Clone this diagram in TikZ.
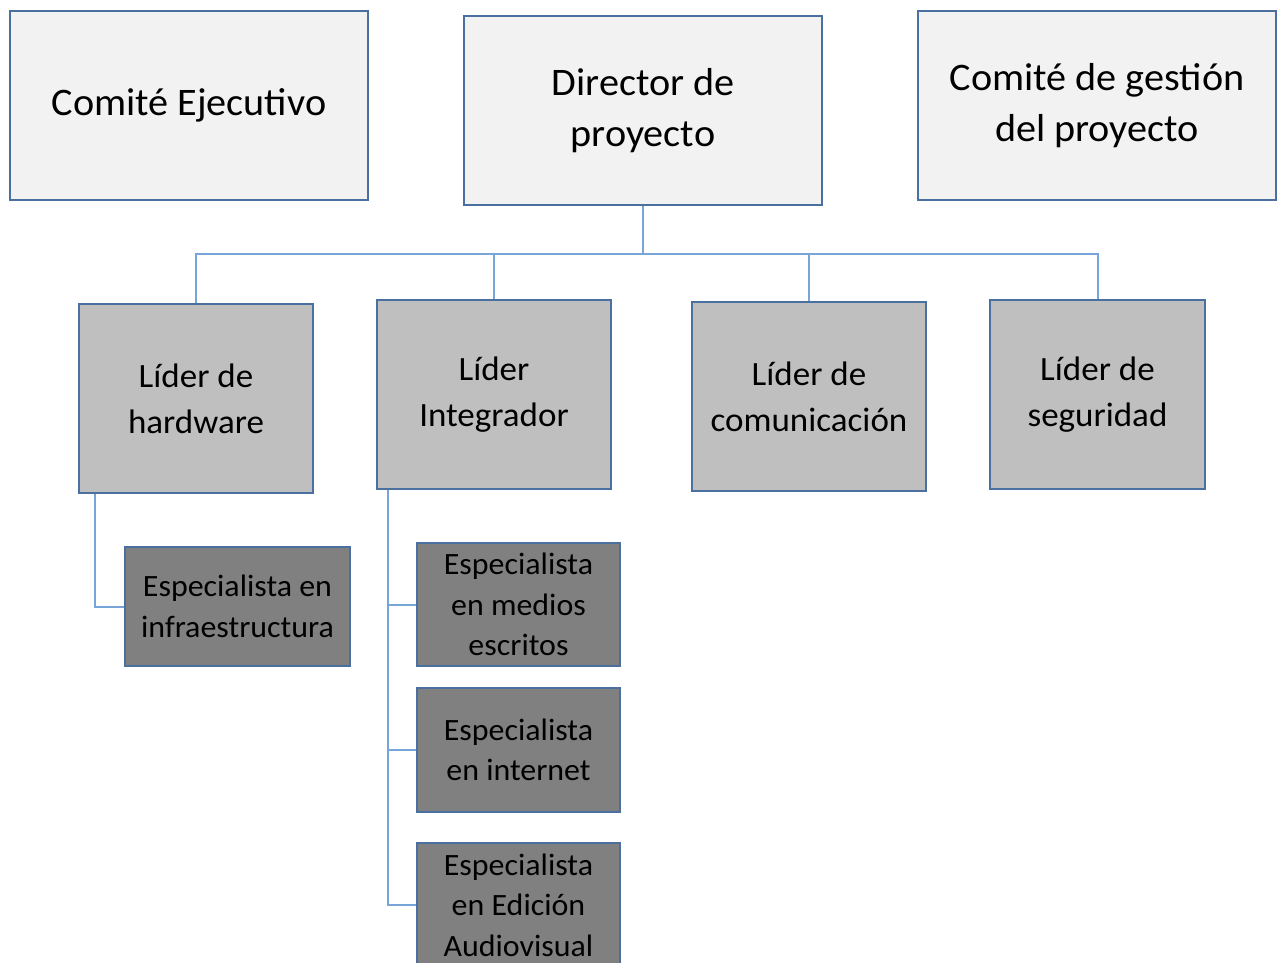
\documentclass[tikz,border=0pt]{standalone}
\usepackage{fontspec}
\setmainfont[FakeStretch=1.03]{Carlito}
\definecolor{bordc}{RGB}{74,112,160}
\definecolor{connc}{RGB}{120,165,215}
\definecolor{topf}{RGB}{242,242,242}
\definecolor{midf}{RGB}{191,191,191}
\definecolor{lowf}{RGB}{128,128,128}
\tikzset{
  box/.style={draw=bordc, line width=1.6pt, inner sep=0pt, align=center, text=black},
  topbox/.style={box, fill=topf, minimum width=358pt, minimum height=189pt, font=\fontsize{39}{51}\selectfont},
  midbox/.style={box, fill=midf, minimum width=234pt, minimum height=189pt, font=\fontsize{34}{46}\selectfont},
  lowbox/.style={box, fill=lowf, minimum width=203pt, minimum height=124pt, font=\fontsize{31}{40.5}\selectfont},
  conn/.style={draw=connc, line width=2pt}
}
\begin{document}
\begin{tikzpicture}[x=1pt,y=-1pt]
\useasboundingbox (0,0) rectangle (1282,963);
\clip (0,0) rectangle (1282,963);
\fill[white] (0,0) rectangle (1282,963);
\node[topbox] (ce) at (189,105.5) {Comité Ejecutivo};
\node[topbox] (dir) at (643,110.5) {Director de\\proyecto};
\node[topbox] (cg) at (1097,105.5) {Comité de gestión\\del proyecto};
\node[midbox] (lh) at (196,398.5) {Líder de\\hardware};
\node[midbox] (li) at (494,394.5) {Líder\\Integrador};
\node[midbox] (lc) at (809,396.5) {Líder de\\comunicación};
\node[midbox, minimum width=215pt] (ls) at (1097.5,394.5) {Líder de\\seguridad};
\node[lowbox, minimum width=225pt, minimum height=119pt] (ei) at (237.5,606.5) {Especialista en\\infraestructura};
\node[lowbox, minimum height=123pt] (em) at (518.5,604.5) {Especialista\\en medios\\escritos};
\node[lowbox] (en) at (518.5,750) {Especialista\\en internet};
\node[lowbox] (ea) at (518.5,905) {Especialista\\en Edición\\Audiovisual};
\coordinate (bus) at (643,254);
\draw[conn] (dir.south) -- (bus);
\draw[conn] (bus) -| (lh.north);
\draw[conn] (bus) -| (li.north);
\draw[conn] (bus) -| (lc.north);
\draw[conn] (bus) -| (ls.north);
\draw[conn] (lh.south west) ++(17,0) |- (ei.west);
\draw[conn] (li.south west) ++(12,0) |- (em.west);
\draw[conn] (li.south west) ++(12,0) |- (en.west);
\draw[conn] (li.south west) ++(12,0) |- (ea.west);
\end{tikzpicture}
\end{document}
